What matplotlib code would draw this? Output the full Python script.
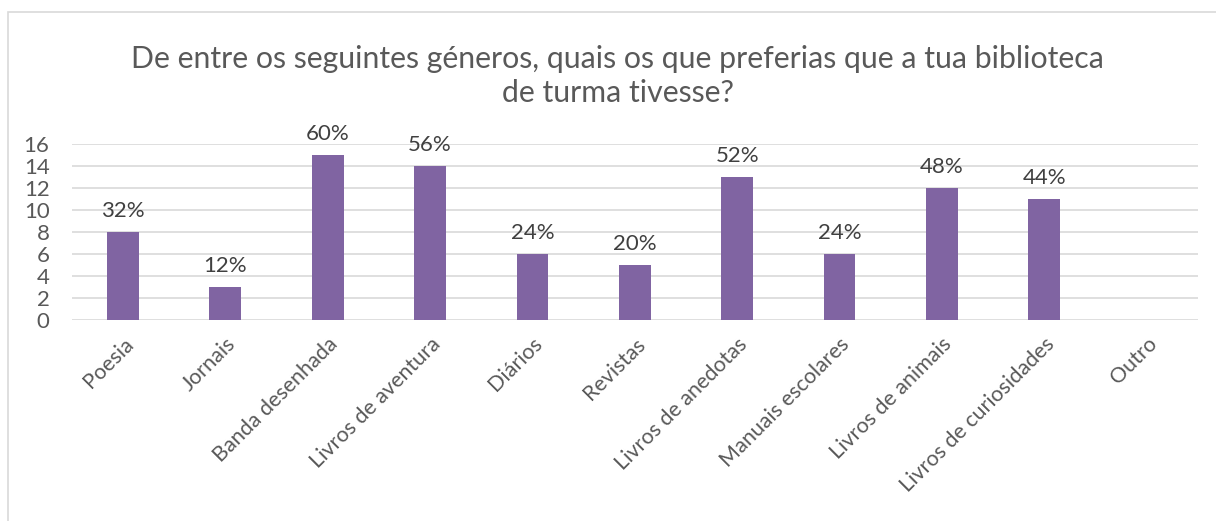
import matplotlib.pyplot as plt
from matplotlib.patches import Rectangle

categories = ['Poesia', 'Jornais', 'Banda desenhada', 'Livros de aventura', 'Diários',
              'Revistas', 'Livros de anedotas', 'Manuais escolares', 'Livros de animais',
              'Livros de curiosidades', 'Outro']
counts = [8, 3, 15, 14, 6, 5, 13, 6, 12, 11, 0]
pct_labels = ['32%', '12%', '60%', '56%', '24%', '20%', '52%', '24%', '48%', '44%', '']
yticks = [0, 2, 4, 6, 8, 10, 12, 14, 16]

plt.rcParams['font.family'] = ['Lato', 'DejaVu Sans']
txt = '#595959'

fig = plt.figure(figsize=(12.16, 5.21), dpi=100)
ax = fig.add_axes([0.059, 0.386, 0.926, 0.338])

x = range(len(categories))
bars = ax.bar(x, counts, width=0.31, color='#8064A2', zorder=3)
for b, lab in zip(bars, pct_labels):
    if lab:
        ax.annotate(lab, (b.get_x() + b.get_width() / 2, b.get_height()),
                    xytext=(0, 8), textcoords='offset points', ha='center', va='bottom',
                    fontsize=16, color='#404040')

ax.set_xlim(-0.5, len(categories) - 0.5)
ax.set_ylim(0, 16)
ax.set_yticks(yticks)
ax.tick_params(axis='y', length=0, labelsize=16, labelcolor=txt, pad=16)
ax.tick_params(axis='x', length=0, labelsize=15.5, labelcolor=txt, pad=10)
ax.set_xticks(list(x))
ax.set_xticklabels(categories, rotation=45, ha='right', rotation_mode='anchor')
ax.grid(axis='y', color='#D9D9D9', lw=1.2, zorder=0)
for s in ax.spines.values():
    s.set_visible(False)

fig.text(0.508, 0.854, 'De entre os seguintes géneros, quais os que preferias que a tua biblioteca\nde turma tivesse?',
         ha='center', va='center', fontsize=21.8, color=txt, linespacing=1.25)

fig.patches.append(Rectangle((8 / 1216, -0.05), 1.1, 1 - 12 / 521 + 0.05, transform=fig.transFigure,
                             fill=False, edgecolor='#D9D9D9', lw=1.2))

fig.savefig('out.png', dpi=100)
